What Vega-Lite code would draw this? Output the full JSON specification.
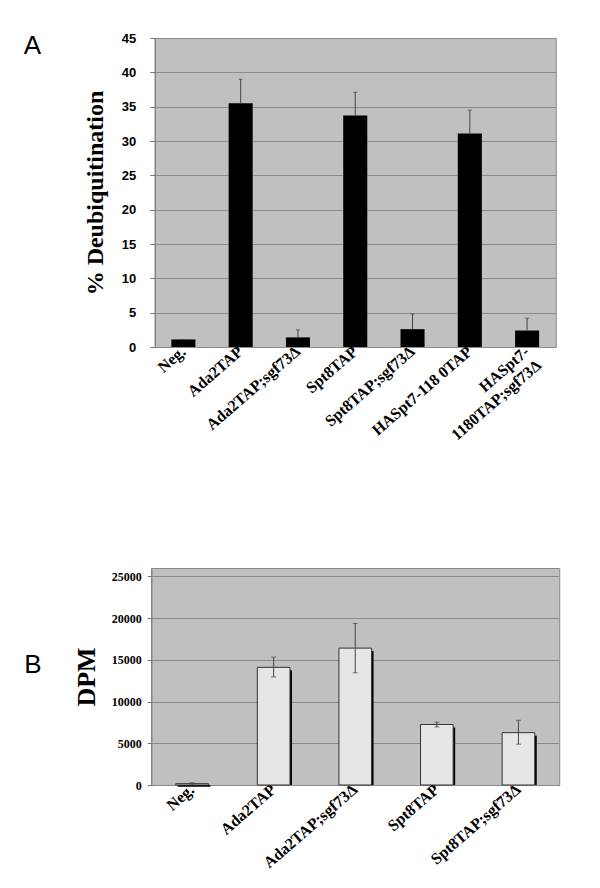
{
  "$schema": "https://vega.github.io/schema/vega-lite/v6.json",
  "padding": {"left": 23, "top": 31, "right": 5, "bottom": 5},
  "background": "white",
  "spacing": 123,
  "center": true,
  "config": {
    "view": {"fill": "#c0c0c0", "stroke": "#8a8a8a", "strokeWidth": 1},
    "axis": {"gridColor": "#8c8c8c", "gridWidth": 1, "domainColor": "#777777", "tickColor": "#777777"}
  },
  "vconcat": [
    {
      "width": 401,
      "height": 309,
      "title": {"text": "A", "anchor": "start", "frame": "group", "font": "Liberation Sans", "fontSize": 26, "fontWeight": "normal", "baseline": "top", "offset": 0, "dx": -131, "dy": 27},
      "data": {"values": [
        {"cat": "Neg.", "value": 1.1, "hi": 1.1},
        {"cat": "Ada2TAP", "value": 35.5, "hi": 39.0},
        {"cat": "Ada2TAP;sgf73Δ", "value": 1.4, "hi": 2.5},
        {"cat": "Spt8TAP", "value": 33.7, "hi": 37.1},
        {"cat": "Spt8TAP;sgf73Δ", "value": 2.6, "hi": 4.8},
        {"cat": "HASpt7-118 0TAP", "value": 31.1, "hi": 34.5},
        {"cat": "HASpt7-|1180TAP;sgf73Δ", "value": 2.4, "hi": 4.2}
      ]},
      "encoding": {
        "x": {"field": "cat", "type": "nominal", "sort": null,
          "scale": {"paddingInner": 0.58, "paddingOuter": 0.29},
          "axis": {"title": null, "labelAngle": -41, "labelAlign": "right", "labelBaseline": "middle", "labelFont": "Liberation Serif", "labelFontWeight": "bold", "labelFontSize": 16, "labelColor": "black", "ticks": false, "domain": false, "labelPadding": 2, "labelDx": 6, "labelExpr": "split(datum.label, '|')", "labelLineHeight": 18}
        }
      },
      "layer": [
        {
          "mark": {"type": "bar", "color": "black"},
          "encoding": {
            "y": {"field": "value", "type": "quantitative",
              "scale": {"domain": [0, 45]},
              "axis": {"values": [0,5,10,15,20,25,30,35,40,45], "labelOverlap": false, "title": "% Deubiquitination", "titleFont": "Liberation Serif", "titleFontWeight": "bold", "titleFontSize": 24, "titleColor": "black", "titlePadding": 14, "labelFont": "Liberation Sans", "labelFontWeight": "bold", "labelFontSize": 13, "labelColor": "black", "labelPadding": 14, "tickSize": 5, "grid": true}
            }
          }
        },
        {
          "mark": {"type": "rule", "color": "#444444", "strokeWidth": 1},
          "encoding": {"y": {"field": "value", "type": "quantitative",
              "axis": {"values": [0,5,10,15,20,25,30,35,40,45], "labelOverlap": false, "title": "% Deubiquitination", "titleFont": "Liberation Serif", "titleFontWeight": "bold", "titleFontSize": 24, "titleColor": "black", "titlePadding": 14, "labelFont": "Liberation Sans", "labelFontWeight": "bold", "labelFontSize": 13, "labelColor": "black", "labelPadding": 14, "tickSize": 5, "grid": true}}, "y2": {"field": "hi"}}
        },
        {
          "mark": {"type": "tick", "color": "#444444", "thickness": 1, "size": 4, "orient": "horizontal"},
          "encoding": {"y": {"field": "hi", "type": "quantitative",
              "axis": {"values": [0,5,10,15,20,25,30,35,40,45], "labelOverlap": false, "title": "% Deubiquitination", "titleFont": "Liberation Serif", "titleFontWeight": "bold", "titleFontSize": 24, "titleColor": "black", "titlePadding": 14, "labelFont": "Liberation Sans", "labelFontWeight": "bold", "labelFontSize": 13, "labelColor": "black", "labelPadding": 14, "tickSize": 5, "grid": true}}}
        }
      ]
    },
    {
      "width": 408,
      "height": 217,
      "title": {"text": "B", "anchor": "start", "frame": "group", "font": "Liberation Sans", "fontSize": 26, "fontWeight": "normal", "baseline": "top", "offset": 0, "dx": -127, "dy": 110},
      "data": {"values": [
        {"cat": "Neg.", "value": 160, "lo": 100, "hi": 260},
        {"cat": "Ada2TAP", "value": 14100, "lo": 12950, "hi": 15320},
        {"cat": "Ada2TAP;sgf73Δ", "value": 16400, "lo": 13450, "hi": 19350},
        {"cat": "Spt8TAP", "value": 7250, "lo": 6960, "hi": 7530},
        {"cat": "Spt8TAP;sgf73Δ", "value": 6270, "lo": 4890, "hi": 7760}
      ]},
      "encoding": {
        "x": {"field": "cat", "type": "nominal", "sort": null,
          "scale": {"paddingInner": 0.6, "paddingOuter": 0.3},
          "axis": {"title": null, "labelAngle": -41, "labelAlign": "right", "labelBaseline": "middle", "labelFont": "Liberation Serif", "labelFontWeight": "bold", "labelFontSize": 16, "labelColor": "black", "ticks": false, "domain": false, "labelPadding": 2, "labelDx": 6}
        }
      },
      "layer": [
        {
          "mark": {"type": "bar", "color": "black", "xOffset": 2, "yOffset": 3},
          "encoding": {
            "y": {"field": "value", "type": "quantitative",
              "scale": {"domain": [0, 25000]},
              "axis": {"values": [0,5000,10000,15000,20000,25000], "format": "d", "labelOverlap": false, "title": "DPM", "titleFont": "Liberation Serif", "titleFontWeight": "bold", "titleFontSize": 26, "titleColor": "black", "titlePadding": 12, "labelFont": "Liberation Serif", "labelFontWeight": "bold", "labelFontSize": 12, "labelColor": "black", "labelPadding": 6, "tickSize": 4, "grid": true}
            },
            "y2": {"datum": 0}
          }
        },
        {
          "mark": {"type": "bar", "fill": "#e6e6e6", "stroke": "#333333", "strokeWidth": 1},
          "encoding": {"y": {"field": "value", "type": "quantitative"}}
        },
        {
          "mark": {"type": "rule", "color": "#444444", "strokeWidth": 1},
          "encoding": {"y": {"field": "lo", "type": "quantitative"}, "y2": {"field": "hi"}}
        },
        {
          "mark": {"type": "tick", "color": "#444444", "thickness": 1, "size": 5, "orient": "horizontal"},
          "encoding": {"y": {"field": "hi", "type": "quantitative"}}
        },
        {
          "mark": {"type": "tick", "color": "#444444", "thickness": 1, "size": 5, "orient": "horizontal"},
          "encoding": {"y": {"field": "lo", "type": "quantitative"}}
        }
      ]
    }
  ]
}
